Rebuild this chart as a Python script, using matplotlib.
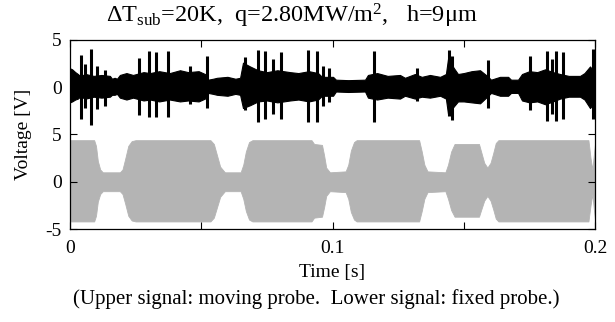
import matplotlib
matplotlib.use("Agg")
import matplotlib.pyplot as plt
import numpy as np

plt.rcParams['font.family'] = ['Liberation Serif', 'DejaVu Serif']
plt.rcParams['mathtext.fontset'] = 'custom'
plt.rcParams['mathtext.rm'] = 'Liberation Serif'
plt.rcParams['mathtext.it'] = 'Liberation Serif:italic'

# ---- data ----
# Upper signal (moving probe): envelope breakpoints [s], upper/lower [V]
upper_t = [0.0, 0.0008, 0.0020, 0.0030, 0.0038, 0.0060, 0.0090, 0.0120, 0.0152,
           0.0160, 0.0170, 0.0179, 0.0190, 0.0215, 0.0240, 0.0280, 0.0305, 0.0340,
           0.0380, 0.0419, 0.0450, 0.0490, 0.0514, 0.0526, 0.0545, 0.0560, 0.0600,
           0.0630, 0.0648, 0.0659, 0.0686, 0.0716, 0.0750, 0.0790, 0.0838, 0.0870,
           0.0910, 0.0945, 0.0960, 0.1002, 0.1013, 0.1060, 0.1124, 0.1135, 0.1170,
           0.1210, 0.1257, 0.1276, 0.1314, 0.1340, 0.1371, 0.1410, 0.1432, 0.1440,
           0.1463, 0.1478, 0.1500, 0.1530, 0.1562, 0.1589, 0.1604, 0.1638, 0.1669,
           0.1680, 0.1707, 0.1722, 0.1750, 0.1780, 0.1810, 0.1840, 0.1867, 0.1900,
           0.1943, 0.1960, 0.1981, 0.2000]
upper_hi = [2.0, 1.9, 1.6, 1.4, 1.2, 1.4, 1.2, 1.3, 1.2,
            0.9, 1.0, 0.9, 1.3, 1.5, 1.3, 1.6, 1.5, 1.7,
            1.5, 1.8, 1.6, 1.7, 1.4, 0.8, 0.9, 1.0, 1.1,
            0.9, 1.0, 2.6, 2.2, 1.8, 1.6, 1.8, 1.6, 1.5,
            1.7, 1.5, 1.1, 1.1, 0.8, 0.75, 0.8, 1.3, 1.5,
            1.2, 1.3, 1.0, 1.4, 1.1, 1.3, 1.1, 1.4, 3.0,
            2.0, 1.4, 1.5, 1.7, 1.8, 1.2, 0.8, 1.1, 1.1,
            0.8, 0.8, 1.4, 1.7, 1.6, 1.9, 1.6, 1.4, 1.2,
            1.2, 1.5, 2.2, 1.5]
upper_lo = [-1.6, -1.5, -1.3, -1.2, -1.0, -1.2, -1.0, -1.1, -1.0,
            -0.8, -0.8, -0.7, -1.1, -1.3, -1.1, -1.4, -1.3, -1.5,
            -1.3, -1.5, -1.4, -1.5, -1.2, -0.6, -0.7, -0.8, -0.9,
            -0.7, -0.8, -2.2, -1.9, -1.5, -1.4, -1.6, -1.4, -1.3,
            -1.5, -1.3, -0.9, -0.9, -0.45, -0.5, -0.45, -1.1, -1.3,
            -1.1, -1.2, -0.9, -1.2, -1.0, -1.1, -0.9, -1.2, -2.8,
            -2.0, -1.5, -1.5, -1.6, -1.7, -1.0, -0.6, -0.9, -0.9,
            -0.6, -0.6, -1.4, -1.6, -1.5, -1.8, -1.5, -1.2, -1.0,
            -1.0, -1.3, -2.2, -1.5]
# Upper signal spikes: time [s], top [V], bottom [V]
spike_t = [0.0041, 0.0057, 0.0079, 0.0102, 0.0133, 0.0263, 0.0301, 0.0328, 0.0373,
           0.0457, 0.0522, 0.0667, 0.0716, 0.0743, 0.0773, 0.0804, 0.0907, 0.0941,
           0.0964, 0.0987, 0.1158, 0.1322, 0.1444, 0.1455, 0.1592, 0.1752, 0.1817,
           0.1836, 0.1851, 0.1878, 0.1992]
spike_hi = [3.4, 2.5, 4.0, 2.2, 1.8, 3.1, 3.8, 3.7, 3.8,
            2.2, 3.3, 3.2, 3.9, 3.8, 3.0, 3.7, 3.9, 3.8,
            2.2, 2.0, 3.8, 2.0, 3.9, 3.3, 2.9, 3.3, 3.8,
            3.0, 3.8, 3.7, 4.0]
spike_lo = [-3.4, -2.2, -4.0, -2.3, -2.0, -2.9, -3.2, -3.2, -3.2,
            -1.8, -2.2, -2.4, -3.7, -3.4, -2.8, -3.4, -3.7, -3.7,
            -2.0, -1.6, -3.7, -1.5, -3.0, -3.5, -2.2, -2.4, -3.6,
            -2.8, -3.6, -3.4, -3.4]

# Lower signal (fixed probe): envelope breakpoints [s], upper/lower [V]
lower_t = [0.0, 0.0092, 0.0099, 0.0106, 0.0115, 0.0125, 0.0190, 0.0200, 0.0210,
           0.0222, 0.0235, 0.0250, 0.0535, 0.0548, 0.0560, 0.0572, 0.0590, 0.0650,
           0.0660, 0.0670, 0.0682, 0.0695, 0.0920, 0.0930, 0.0960, 0.0968, 0.0976,
           0.0990, 0.1050, 0.1060, 0.1070, 0.1082, 0.1092, 0.1330, 0.1340, 0.1350,
           0.1362, 0.1430, 0.1440, 0.1452, 0.1465, 0.1558, 0.1566, 0.1578, 0.1590,
           0.1602, 0.1612, 0.1622, 0.1632, 0.1975, 0.1983, 0.1990, 0.1996, 0.2000]
lower_hi = [4.4, 4.4, 3.8, 2.2, 1.3, 1.0, 1.0, 1.3, 2.4,
            3.8, 4.3, 4.4, 4.4, 4.0, 2.8, 1.6, 1.0, 1.0,
            1.8, 3.2, 4.2, 4.4, 4.4, 4.0, 3.9, 2.8, 1.5,
            1.0, 1.1, 1.8, 3.3, 4.2, 4.4, 4.4, 3.2, 1.8,
            1.1, 1.0, 1.8, 3.2, 4.0, 4.0, 3.2, 2.0, 1.5,
            2.0, 3.0, 4.1, 4.4, 4.4, 2.5, 1.3, 3.0, 4.0]
lower_lo = [-4.2, -4.2, -3.6, -2.1, -1.3, -1.0, -1.0, -1.3, -2.3,
            -3.6, -4.1, -4.2, -4.2, -3.8, -2.7, -1.6, -1.0, -1.0,
            -1.8, -3.1, -4.0, -4.2, -4.2, -3.8, -3.7, -2.7, -1.5,
            -1.0, -1.1, -1.8, -3.2, -4.0, -4.2, -4.2, -3.1, -1.8,
            -1.1, -1.0, -1.8, -3.0, -3.7, -3.7, -3.0, -2.0, -1.5,
            -2.0, -2.9, -3.9, -4.2, -4.2, -2.5, -1.3, -3.0, -4.0]

ytick_vals = [-5, 0, 5, 10, 15]
ytick_labels = ['-5', '0', '5', '0', '5']
xtick_vals = [0, 0.05, 0.1, 0.15, 0.2]
xtick_labels = ['0', '', '0.1', '', '0.2']

offset = 10.0  # vertical shift of upper trace

fig = plt.figure(figsize=(6.15, 3.22), dpi=100)
ax = fig.add_axes([70/615, 1-229/322, 525/615, 189/322])

ax.fill_between(lower_t, lower_lo, lower_hi, color='#b4b4b4', linewidth=0.6,
                edgecolor='#b4b4b4')
ax.fill_between(upper_t, np.array(upper_lo) + offset, np.array(upper_hi) + offset,
                color='black', linewidth=0.8, edgecolor='black')
ax.vlines(spike_t, np.array(spike_lo) + offset, np.array(spike_hi) + offset,
          color='black', linewidth=2.2)

ax.set_xlim(0, 0.2)
ax.set_ylim(-5, 15)
ax.set_xticks(xtick_vals)
ax.set_xticklabels(xtick_labels)
ax.set_yticks(ytick_vals)
ax.set_yticklabels(ytick_labels)
ax.tick_params(direction='in', top=True, right=True, length=5, width=0.8,
               labelsize=14)
ax.tick_params(axis='x', pad=8)
ax.tick_params(axis='y', pad=6)
for s in ax.spines.values():
    s.set_linewidth(0.9)

ax.set_xlabel('Time [s]', fontsize=14, labelpad=5)
ax.set_ylabel('Voltage [V]', fontsize=14, labelpad=10)

fig.text(0.475, 0.93, 'ΔT$_{\\mathrm{sub}}$=20K,  q=2.80MW/m$^{2}$,   h=9μm',
         ha='center', va='baseline', fontsize=17.5)
fig.text(0.515, 0.055, '(Upper signal: moving probe.  Lower signal: fixed probe.)',
         ha='center', va='baseline', fontsize=15)

fig.savefig('out.png', dpi=100)
